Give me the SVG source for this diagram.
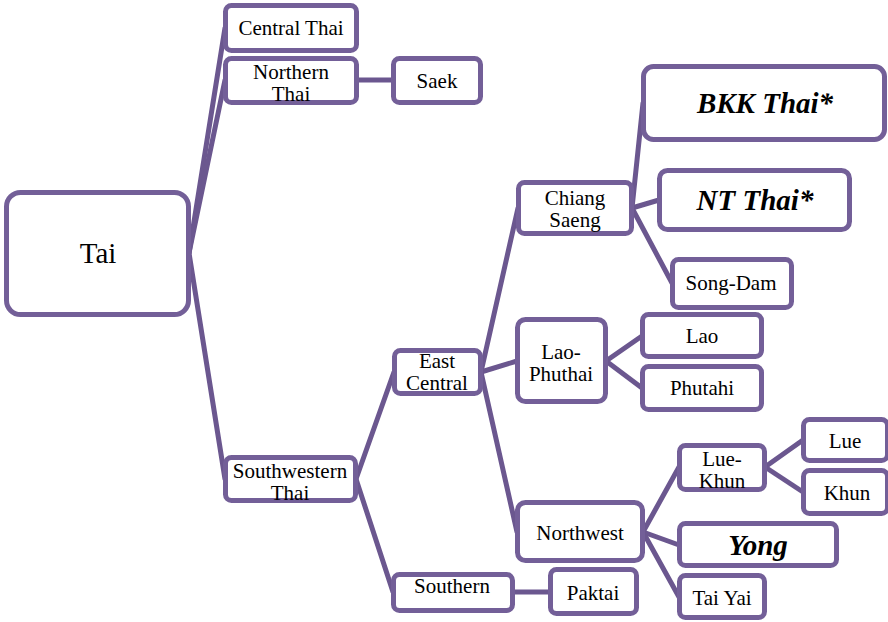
<svg xmlns="http://www.w3.org/2000/svg" width="888" height="622" viewBox="0 0 888 622">
  <style>
    .box { fill: #ffffff; stroke: #735f98; stroke-width: 5; }
    .conn line { stroke: #6b578f; stroke-width: 5; stroke-linecap: round; }
    text { font-family: "Liberation Serif", "DejaVu Serif", serif; font-size: 21px; fill: #000000; text-anchor: middle; }
    .big { font-size: 29px; }
    .em { font-size: 29px; font-weight: bold; font-style: italic; }
  </style>
  <rect width="888" height="622" fill="#ffffff"/>

  <!-- tree connectors -->
  <g id="connectors" class="conn">
    <line x1="189" y1="253" x2="225" y2="28"/>
    <line x1="189" y1="253" x2="225" y2="80"/>
    <line x1="189" y1="253" x2="225" y2="479"/>
    <line x1="356" y1="80" x2="393" y2="80"/>
    <line x1="356" y1="479" x2="394" y2="372"/>
    <line x1="356" y1="479" x2="393" y2="592"/>
    <line x1="513" y1="592" x2="550" y2="592"/>
    <line x1="481" y1="372" x2="518" y2="208"/>
    <line x1="481" y1="372" x2="517" y2="361"/>
    <line x1="481" y1="372" x2="517" y2="532"/>
    <line x1="632" y1="208" x2="643" y2="103"/>
    <line x1="632" y1="208" x2="659" y2="200"/>
    <line x1="632" y1="208" x2="672" y2="283"/>
    <line x1="606" y1="361" x2="642" y2="336"/>
    <line x1="606" y1="361" x2="642" y2="388"/>
    <line x1="643" y1="532" x2="679" y2="467"/>
    <line x1="643" y1="532" x2="679" y2="545"/>
    <line x1="643" y1="532" x2="679" y2="597"/>
    <line x1="765" y1="467" x2="803" y2="440"/>
    <line x1="765" y1="467" x2="803" y2="492"/>
  </g>

  <g id="tai">
    <rect class="box" x="6.5" y="192.5" width="182" height="122" rx="14"/>
    <text class="big" x="98" y="263">Tai</text>
  </g>
  <g id="central-thai">
    <rect class="box" x="225.5" y="5.5" width="131" height="45" rx="6"/>
    <text x="291" y="35">Central Thai</text>
  </g>
  <g id="northern-thai">
    <rect class="box" x="225.5" y="58.5" width="131" height="44" rx="6"/>
    <text x="291" y="79">Northern</text>
    <text x="291" y="101">Thai</text>
  </g>
  <g id="saek">
    <rect class="box" x="393.5" y="58.5" width="87" height="44" rx="6"/>
    <text x="437" y="88">Saek</text>
  </g>
  <g id="southwestern-thai">
    <rect class="box" x="225.5" y="457.5" width="130" height="43" rx="6"/>
    <text x="290" y="478">Southwestern</text>
    <text x="290" y="500">Thai</text>
  </g>
  <g id="east-central">
    <rect class="box" x="394.5" y="350.5" width="86" height="43" rx="6"/>
    <text x="437" y="368">East</text>
    <text x="437" y="390">Central</text>
  </g>
  <g id="southern">
    <rect class="box" x="393.5" y="574.5" width="119" height="36" rx="6"/>
    <text x="452" y="593">Southern</text>
  </g>
  <g id="paktai">
    <rect class="box" x="550.5" y="569.5" width="86" height="44" rx="6"/>
    <text x="593" y="600">Paktai</text>
  </g>
  <g id="chiang-saeng">
    <rect class="box" x="518.5" y="182.5" width="113" height="51" rx="6"/>
    <text x="575" y="205">Chiang</text>
    <text x="575" y="227">Saeng</text>
  </g>
  <g id="bkk-thai">
    <rect class="box" x="643.5" y="66.5" width="241" height="73" rx="10"/>
    <text class="em" x="765" y="113">BKK Thai*</text>
  </g>
  <g id="nt-thai">
    <rect class="box" x="659.5" y="170.5" width="190" height="59" rx="8"/>
    <text class="em" x="755" y="210">NT Thai*</text>
  </g>
  <g id="song-dam">
    <rect class="box" x="672.5" y="259.5" width="119" height="48" rx="6"/>
    <text x="731" y="290">Song-Dam</text>
  </g>
  <g id="lao-phuthai">
    <rect class="box" x="517.5" y="319.5" width="88" height="82" rx="8"/>
    <text x="561" y="359">Lao-</text>
    <text x="561" y="381">Phuthai</text>
  </g>
  <g id="lao">
    <rect class="box" x="642.5" y="314.5" width="119" height="42" rx="6"/>
    <text x="702" y="343">Lao</text>
  </g>
  <g id="phutahi">
    <rect class="box" x="642.5" y="366.5" width="119" height="43" rx="6"/>
    <text x="702" y="395">Phutahi</text>
  </g>
  <g id="northwest">
    <rect class="box" x="517.5" y="502.5" width="125" height="58" rx="8"/>
    <text x="580" y="540">Northwest</text>
  </g>
  <g id="lue-khun">
    <rect class="box" x="679.5" y="445.5" width="85" height="44" rx="6"/>
    <text x="722" y="466">Lue-</text>
    <text x="722" y="488">Khun</text>
  </g>
  <g id="lue">
    <rect class="box" x="803.5" y="419.5" width="84" height="41" rx="6"/>
    <text x="845" y="448">Lue</text>
  </g>
  <g id="khun">
    <rect class="box" x="803.5" y="470.5" width="84" height="43" rx="6"/>
    <text x="847" y="500">Khun</text>
  </g>
  <g id="yong">
    <rect class="box" x="679.5" y="523.5" width="157" height="42" rx="6"/>
    <text class="em" x="758" y="555">Yong</text>
  </g>
  <g id="tai-yai">
    <rect class="box" x="679.5" y="575.5" width="85" height="42" rx="6"/>
    <text x="722" y="605">Tai Yai</text>
  </g>
</svg>
